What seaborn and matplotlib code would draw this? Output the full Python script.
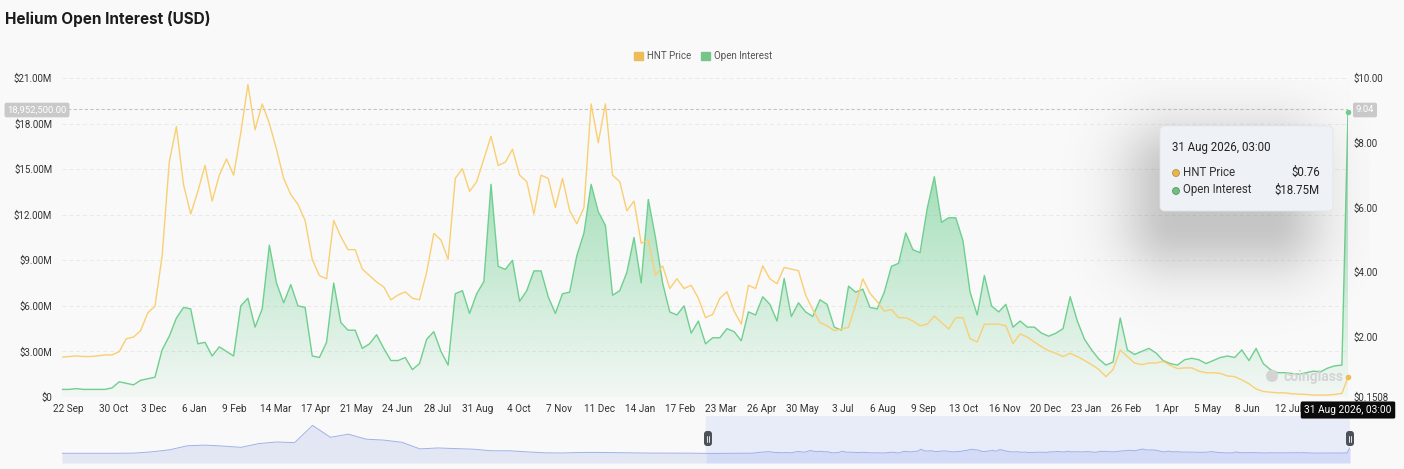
import numpy as np
import pandas as pd
import matplotlib
matplotlib.use("Agg")
import matplotlib.pyplot as plt
import matplotlib.dates as mdates
import matplotlib.colors as mcolors
from matplotlib.patches import FancyBboxPatch, Patch, Circle
import seaborn as sns

# ---- values (6-day steps) ----
start_day = "2023-09-17"
step = "6D"
oi_musd = [
    0.5, 0.5, 0.55, 0.5, 0.5, 0.5, 0.5, 0.6, 1.0, 0.9, 0.8, 1.1, 1.2, 1.3, 3.1, 4.0, 5.2, 5.9,
    5.8, 3.5, 3.6, 2.7, 3.3, 3.0, 2.7, 6.0, 6.5, 4.6, 5.8, 10.0, 7.5, 6.2, 7.4, 6.0, 5.9, 2.7,
    2.6, 3.6, 7.5, 4.9, 4.4, 4.4, 3.2, 3.5, 4.1, 3.2, 2.4, 2.4, 2.6, 1.8, 2.2, 3.8, 4.3, 3.0,
    2.1, 6.8, 7.0, 5.5, 6.8, 7.6, 14.0, 8.6, 8.4, 9.0, 6.3, 7.0, 8.3, 8.3, 6.6, 5.5, 6.8, 6.9,
    9.3, 10.8, 14.0, 12.2, 11.3, 6.7, 7.0, 8.2, 10.5, 7.5, 13.0, 10.5, 7.5, 5.6, 5.4, 6.0, 4.2, 5.0,
    3.5, 3.9, 3.9, 4.5, 4.3, 3.7, 5.6, 5.4, 6.6, 6.1, 5.0, 7.8, 5.3, 6.2, 5.6, 5.3, 6.4, 6.1,
    4.6, 4.4, 7.3, 6.9, 7.1, 5.9, 5.8, 6.9, 8.6, 8.8, 10.8, 9.7, 9.5, 12.4, 14.5, 11.5, 11.8, 11.8,
    10.3, 6.9, 5.4, 8.0, 6.0, 5.6, 6.1, 4.6, 5.0, 4.6, 4.6, 4.2, 4.0, 4.2, 4.5, 6.6, 5.0,
    3.8, 3.1, 2.5, 2.1, 2.3, 5.2, 3.1, 2.8, 3.0, 3.2, 2.9, 2.4, 2.2, 2.1, 2.45, 2.55, 2.45, 2.2,
    2.4, 2.6, 2.7, 2.6, 3.1, 2.4, 3.2, 2.2, 1.8, 1.6, 1.6, 1.55, 1.5, 1.6, 1.7, 1.65, 1.9, 2.05, 2.1,
]
hnt_price = [
    1.38, 1.40, 1.42, 1.40, 1.40, 1.42, 1.45, 1.45, 1.55, 1.95, 2.0, 2.2, 2.75, 2.95, 4.5, 7.4, 8.5, 6.7,
    5.8, 6.5, 7.3, 6.2, 7.0, 7.5, 7.0, 8.3, 9.8, 8.4, 9.2, 8.6, 7.8, 6.9, 6.4, 6.1, 5.6, 4.4,
    3.9, 3.8, 5.6, 5.1, 4.7, 4.7, 4.1, 3.9, 3.7, 3.55, 3.15, 3.3, 3.4, 3.2, 3.15, 4.0, 5.2, 5.0,
    4.4, 6.9, 7.2, 6.5, 6.8, 7.5, 8.2, 7.3, 7.4, 7.8, 7.0, 6.8, 5.8, 7.0, 6.9, 6.0, 6.9, 5.9,
    5.5, 6.0, 9.2, 8.0, 9.2, 7.0, 6.8, 5.9, 6.2, 4.9, 5.0, 3.9, 4.2, 3.5, 3.8, 3.5, 3.6, 3.2,
    2.6, 2.7, 3.2, 3.4, 2.8, 2.4, 3.6, 3.5, 4.2, 3.8, 3.65, 4.15, 4.1, 4.05, 3.3, 2.85, 2.45, 2.35,
    2.2, 2.25, 2.3, 3.0, 3.8, 3.35, 3.1, 2.8, 2.85, 2.6, 2.6, 2.5, 2.35, 2.4, 2.65, 2.45, 2.25, 2.6,
    2.6, 1.95, 1.85, 2.4, 2.4, 2.4, 2.35, 1.8, 2.1, 2.0, 1.85, 1.7, 1.58, 1.5, 1.4, 1.5, 1.4,
    1.28, 1.15, 1.0, 0.78, 1.0, 1.6, 1.4, 1.2, 1.15, 1.2, 1.2, 1.25, 1.13, 1.03, 1.05, 1.05, 0.95, 0.9,
    0.9, 0.88, 0.8, 0.78, 0.68, 0.56, 0.4, 0.32, 0.3, 0.28, 0.28, 0.25, 0.24, 0.23, 0.21, 0.21, 0.21, 0.23, 0.26,
]
last_time = "2026-08-31 03:00"
last_oi = 18.75
last_price = 0.76

# navigator: earlier history (monthly steps), then the main series
nav_start = "2020-10-02"
nav_step = "30D"
nav_oi_early = [1.0, 1.0, 1.0, 1.0, 1.5, 5.5, 12, 25, 27, 24, 20, 32, 37, 35, 90, 52, 62, 46,
                43, 36, 15, 18, 16, 14, 9, 9, 5.5, 2.5, 2.0, 3.7, 3.7, 3.0, 2.5, 1.6, 1.6, 1.4]

x_tick_days = ["2023-09-22", "2023-10-30", "2023-12-03", "2024-01-06", "2024-02-09", "2024-03-14",
               "2024-04-17", "2024-05-21", "2024-06-24", "2024-07-28", "2024-08-31", "2024-10-04",
               "2024-11-07", "2024-12-11", "2025-01-14", "2025-02-17", "2025-03-23", "2025-04-26",
               "2025-05-30", "2025-07-03", "2025-08-06", "2025-09-09", "2025-10-13", "2025-11-16",
               "2025-12-20", "2026-01-23", "2026-02-26", "2026-04-01", "2026-05-05", "2026-06-08",
               "2026-07-12"]
oi_ticks = [0, 3, 6, 9, 12, 15, 18, 21]
price_ticks = [0.1508, 2, 4, 6, 8, 10]
cross_oi = 18.9525
cross_price = 9.04

W, H = 1404, 469
BG = "#f9f9f9"
YELLOW = "#f9cf73"
GREEN = "#6fcf8f"

sns.set_theme(style="white")
plt.rcParams["font.family"] = ["Roboto", "DejaVu Sans"]

dates = list(pd.date_range(start_day, periods=len(oi_musd), freq=step)) + [pd.Timestamp(last_time)]
df = pd.DataFrame({"time": dates, "oi": oi_musd + [last_oi], "price": hnt_price + [last_price]})

fig = plt.figure(figsize=(W / 100, H / 100), dpi=100, facecolor=BG)

def inch(x, y):
    # pixel position (from top-left) -> inches for dpi_scale_trans
    return x / 100, (H - y) / 100

# ---- main chart ----
ax = fig.add_axes([62 / W, 1 - 397 / H, 1286 / W, 319 / H])
ax.set_facecolor("none")
sns.lineplot(data=df, x="time", y="oi", ax=ax, color=GREEN, linewidth=1.0, zorder=3)

fill = ax.fill_between(df["time"], df["oi"], 0, facecolor="none", edgecolor="none")
rgba = np.zeros((256, 1, 4))
rgba[..., :3] = mcolors.to_rgb("#5cc983")
rgba[..., 3] = np.linspace(0.04, 0.75, 256)[:, None]
x0 = mdates.date2num(df["time"].iloc[0])
x1 = mdates.date2num(df["time"].iloc[-1])
im = ax.imshow(rgba, extent=[x0, x1, 0, 21], origin="lower", aspect="auto", zorder=2)
im.set_clip_path(fill.get_paths()[0], transform=ax.transData)

ax.set_xlim(df["time"].iloc[0], df["time"].iloc[-1])
ax.set_ylim(0, 21)
ax.set_yticks(oi_ticks)
ax.set_yticklabels(["$0" if v == 0 else f"${v:.2f}M" for v in oi_ticks])
ticks = pd.to_datetime(x_tick_days)
ax.set_xticks(ticks)
ax.set_xticklabels([f"{d.day} {d.strftime('%b')}" for d in ticks])
ax.yaxis.grid(True, color="#e9e9e9", linestyle=(0, (4, 3)), linewidth=0.7)
ax.xaxis.grid(False)
ax.tick_params(axis="y", length=0, pad=7, labelsize=7, labelcolor="#333333")
ax.tick_params(axis="x", length=0, pad=5, labelsize=7.2, labelcolor="#333333")
ax.set_xlabel("")
ax.set_ylabel("")

# crosshair
ax.axhline(cross_oi, color="#c4c4c4", linestyle=(0, (3, 2)), linewidth=0.8, zorder=4)
ax.axvline(df["time"].iloc[-1], color="#c4c4c4", linestyle=(0, (3, 2)), linewidth=0.8, zorder=4)
ax.plot(df["time"].iloc[-1], last_oi, "o", color=GREEN, markersize=3, zorder=5, clip_on=False)

ax2 = ax.twinx()
sns.lineplot(data=df, x="time", y="price", ax=ax2, color=YELLOW, linewidth=1.0)
ax2.plot(df["time"].iloc[-1], last_price, "o", color="#f1bd50", markersize=3, clip_on=False)
ax2.set_ylim(price_ticks[0], price_ticks[-1])
ax2.set_yticks(price_ticks)
ax2.set_yticklabels(["$0.1508" if v < 1 else f"${v:.2f}" for v in price_ticks])
ax2.tick_params(axis="y", length=0, pad=4, labelsize=7, labelcolor="#333333")
ax2.set_ylabel("")
ax2.grid(False)
for a in (ax, ax2):
    for s in a.spines.values():
        s.set_visible(False)

# ---- navigator ----
nav_dates = list(pd.date_range(nav_start, periods=len(nav_oi_early), freq=nav_step))
nav_df = pd.DataFrame({"time": nav_dates + dates, "oi": nav_oi_early + list(df["oi"])})
nav = fig.add_axes([62 / W, 1 - 463 / H, 1288 / W, 47 / H])
nav.set_facecolor("none")
sel0 = df["time"].iloc[0]
nav.axvspan(sel0, df["time"].iloc[-1], color="#e8ebf8", zorder=0)
early = nav_df[nav_df["time"] <= sel0]
late = nav_df[nav_df["time"] >= sel0]
nav.fill_between(early["time"], early["oi"], -30, color="#e2e7f3", linewidth=0, zorder=1)
nav.fill_between(late["time"], late["oi"], -30, color="#d4dbf6", linewidth=0, zorder=1)
sns.lineplot(data=nav_df, x="time", y="oi", ax=nav, color="#9fb1ea", linewidth=0.7, zorder=2)
nav.set_xlim(nav_df["time"].iloc[0], nav_df["time"].iloc[-1])
nav.set_ylim(-30, 120)
nav.axis("off")

for hx in (708, 1350):
    bx, by = inch(hx - 4, 446)
    fig.add_artist(FancyBboxPatch((bx, by), 0.08, 0.15, boxstyle="round,pad=0,rounding_size=0.03",
                                  transform=fig.dpi_scale_trans, fc="#4d5158", ec="none", zorder=6))
    for dx in (-1.2, 1.2):
        lx, ly0 = inch(hx + dx, 442)
        _, ly1 = inch(hx + dx, 436)
        fig.add_artist(plt.Line2D([lx, lx], [ly0, ly1], transform=fig.dpi_scale_trans,
                                  color="white", linewidth=0.6, zorder=7))

# ---- title / legend ----
fig.text(5 / W, 1 - 19 / H, "Helium Open Interest (USD)", fontsize=11, fontweight="bold",
         color="#1b1b1b", ha="left", va="center", family=["Inter", "DejaVu Sans"])
fig.legend(handles=[Patch(color="#ecbc56", label="HNT Price"), Patch(color="#76c68c", label="Open Interest")],
           loc="center", bbox_to_anchor=(703 / W, 1 - 56 / H), ncol=2, frameon=False, fontsize=7,
           handlelength=0.9, handleheight=0.9, handletextpad=0.4, columnspacing=1.0, labelcolor="#555555")

# crosshair labels
fig.text(37 / W, 1 - 110 / H, f"{cross_oi * 1e6:,.2f}", fontsize=6.8, color="white", ha="center", va="center",
         bbox=dict(boxstyle="round,pad=0.3,rounding_size=0.2", fc="#c9c9c9", ec="none"))
fig.text(1365 / W, 1 - 110 / H, f"{cross_price:.2f}", fontsize=6.8, color="white", ha="center", va="center",
         bbox=dict(boxstyle="round,pad=0.3,rounding_size=0.2", fc="#c9c9c9", ec="none"))
last_label = f"{pd.Timestamp(last_time).day} {pd.Timestamp(last_time):%b %Y, %H:%M}"
fig.text(1348 / W, 1 - 410 / H, last_label, fontsize=7.3, color="white", ha="center", va="center", zorder=8,
         bbox=dict(boxstyle="round,pad=0.35,rounding_size=0.15", fc="#0b0b0b", ec="none"))

# watermark
fig.add_artist(Circle(inch(1272, 376), 0.06, transform=fig.dpi_scale_trans, fc="#d4d4d4", ec="none", zorder=3))
fig.text(1284 / W, 1 - 377 / H, "coinglass", fontsize=10, fontweight="bold", color="#d4d4d4",
         ha="left", va="center", zorder=3)

# ---- tooltip with soft shadow ----
sx0, sy0, sw, sh = 980, 80, 390, 300
yy, xx = np.mgrid[0:sh, 0:sw]
gx, gy = xx + sx0, yy + sy0
ddx = np.maximum(np.maximum(1175 - gx, 0), gx - 1270)
ddy = np.maximum(np.maximum(175 - gy, 0), gy - 220)
dist = np.hypot(ddx, ddy)
shadow = np.zeros((sh, sw, 4))
shadow[..., :3] = 0.3
shadow[..., 3] = 0.30 * np.exp(-(dist / 55.0) ** 2)
fig.figimage(shadow, xo=sx0, yo=H - (sy0 + sh), origin="upper", zorder=3)

tx, ty = inch(1160, 211)
fig.add_artist(FancyBboxPatch((tx, ty), 1.73, 0.85, boxstyle="round,pad=0,rounding_size=0.05",
                              transform=fig.dpi_scale_trans, fc="#eef1f5", ec="#e2e5ea", lw=0.6, zorder=4))
tip_title = f"{pd.Timestamp(last_time).day} {pd.Timestamp(last_time):%b %Y, %H:%M}"
fig.text(1172 / W, 1 - 147 / H, tip_title, fontsize=8.3, color="#222222", ha="left", va="center", zorder=5)
rows = [("HNT Price", f"${last_price:.2f}", "#e8b64c", "#a9873a", 172),
        ("Open Interest", f"${last_oi:.2f}M", "#6fbf80", "#4a8a59", 190)]
for name, val, fc, ec, ry in rows:
    fig.add_artist(Circle(inch(1176, ry + 1), 0.035, transform=fig.dpi_scale_trans,
                          fc=fc, ec=ec, lw=0.5, zorder=5))
    fig.text(1183 / W, 1 - ry / H, name, fontsize=8.3, color="#333333", ha="left", va="center", zorder=5)
    fig.text(1320 / W, 1 - ry / H, val, fontsize=8.3, color="#222222", ha="right", va="center", zorder=5)

fig.savefig("out.png", dpi=100, facecolor=fig.get_facecolor())
